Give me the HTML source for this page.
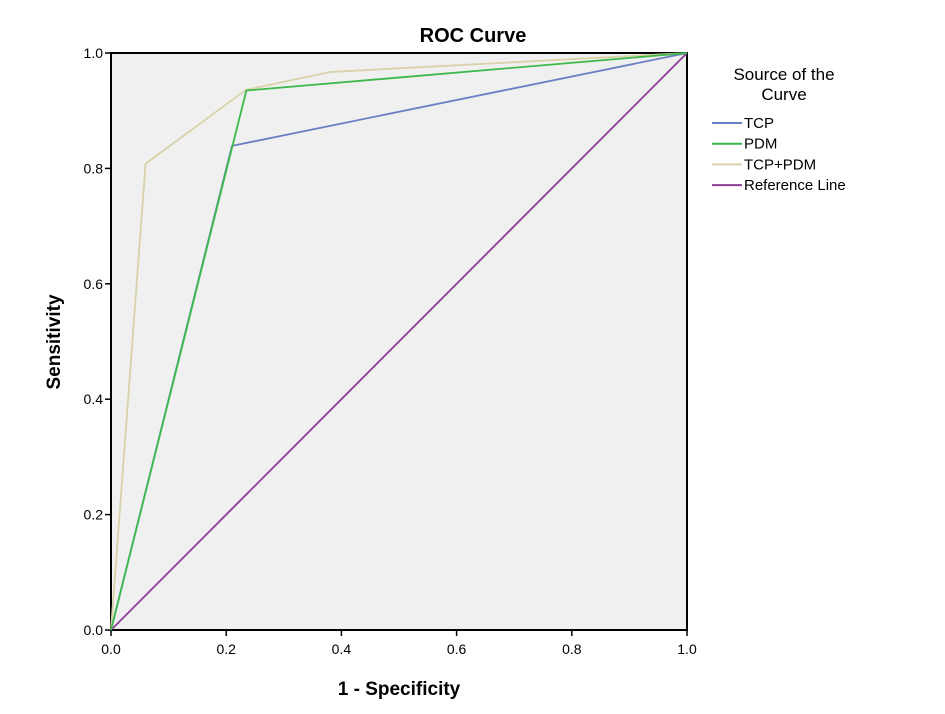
<!DOCTYPE html>
<html><head><meta charset="utf-8"><style>
body{margin:0;background:#fff;font-family:"Liberation Sans",Arial,sans-serif}
svg text{font-family:"Liberation Sans",Arial,sans-serif}
</style></head><body>
<svg id="chart" width="945" height="709" xmlns="http://www.w3.org/2000/svg">
<rect x="0" y="0" width="945" height="709" fill="#fff"/>
<text x="473" y="42" font-size="20" font-weight="bold" text-anchor="middle">ROC Curve</text>
<rect x="111" y="53" width="576" height="577" fill="#f0f0f0" stroke="#000" stroke-width="2"/>
<g id="ticks"></g>
<g id="series"></g>
<text x="399" y="695" font-size="19" font-weight="bold" text-anchor="middle">1 - Specificity</text>
<text transform="translate(60,342) rotate(-90)" font-size="19" font-weight="bold" text-anchor="middle">Sensitivity</text>
<g>
<text x="784" y="80" font-size="17" text-anchor="middle">Source of the</text>
<text x="784" y="100" font-size="17" text-anchor="middle">Curve</text>
<g id="legend-items"></g>
</g>
</svg>
<script>
const xTicks=[0,0.2,0.4,0.6,0.8,1.0];
const yTicks=[0,0.2,0.4,0.6,0.8,1.0];
const tcpX=[0,0.21,1];
const tcpY=[0,0.839,1];
const pdmX=[0,0.235,1];
const pdmY=[0,0.935,1];
const bothX=[0,0.06,0.234,0.38,1];
const bothY=[0,0.808,0.936,0.967,1];
const refX=[0,1];
const refY=[0,1];
const names=["TCP","PDM","TCP+PDM","Reference Line"];
const colors=["#6b7fc4","#3cb94a","#d9d2a8","#8c3d96"];
const L=111,R=687,T=53,B=630;
const sx=v=>L+v*(R-L), sy=v=>B-v*(B-T);
const NS="http://www.w3.org/2000/svg";
const tg=document.getElementById('ticks');
function mk(tag,attrs,parent){const e=document.createElementNS(NS,tag);for(const k in attrs)e.setAttribute(k,attrs[k]);parent.appendChild(e);return e;}
xTicks.forEach(v=>{
 const l=mk('line',{x1:sx(v),x2:sx(v),y1:B,y2:B+6,stroke:'#000','stroke-width':1.5},tg);
 
 
 const t=mk('text',{x:sx(v),y:B+24,'font-size':14,'text-anchor':'middle'},tg);t.textContent=v.toFixed(1);
 
 
});
yTicks.forEach(v=>{
 const l=mk('line',{x1:L-6,x2:L,y1:sy(v),y2:sy(v),stroke:'#000','stroke-width':1.5},tg);
 
 
 const t=mk('text',{x:L-8,y:sy(v)+5,'font-size':14,'text-anchor':'end'},tg);t.textContent=v.toFixed(1);
 
 
});
const sg=document.getElementById('series');
const data=[[tcpX,tcpY],[pdmX,pdmY],[bothX,bothY],[refX,refY]];
const order=[3,0,2,1];
order.forEach(i=>{
 const [xs,ys]=data[i];
 const p=mk('polyline',{points:xs.map((x,j)=>sx(x)+','+sy(ys[j])).join(' '),fill:'none',stroke:colors[i],'stroke-width':1.8},sg);
 
 
});
const lg=document.getElementById('legend-items');
names.forEach((n,i)=>{
 const y=123+i*20.7;
 const l=mk('line',{x1:712,x2:742,y1:y,y2:y,stroke:colors[i],'stroke-width':2},lg);
 
 
 const t=mk('text',{x:744,y:y+5,'font-size':15},lg);t.textContent=n;
 
 
});
</script>
</body></html>
